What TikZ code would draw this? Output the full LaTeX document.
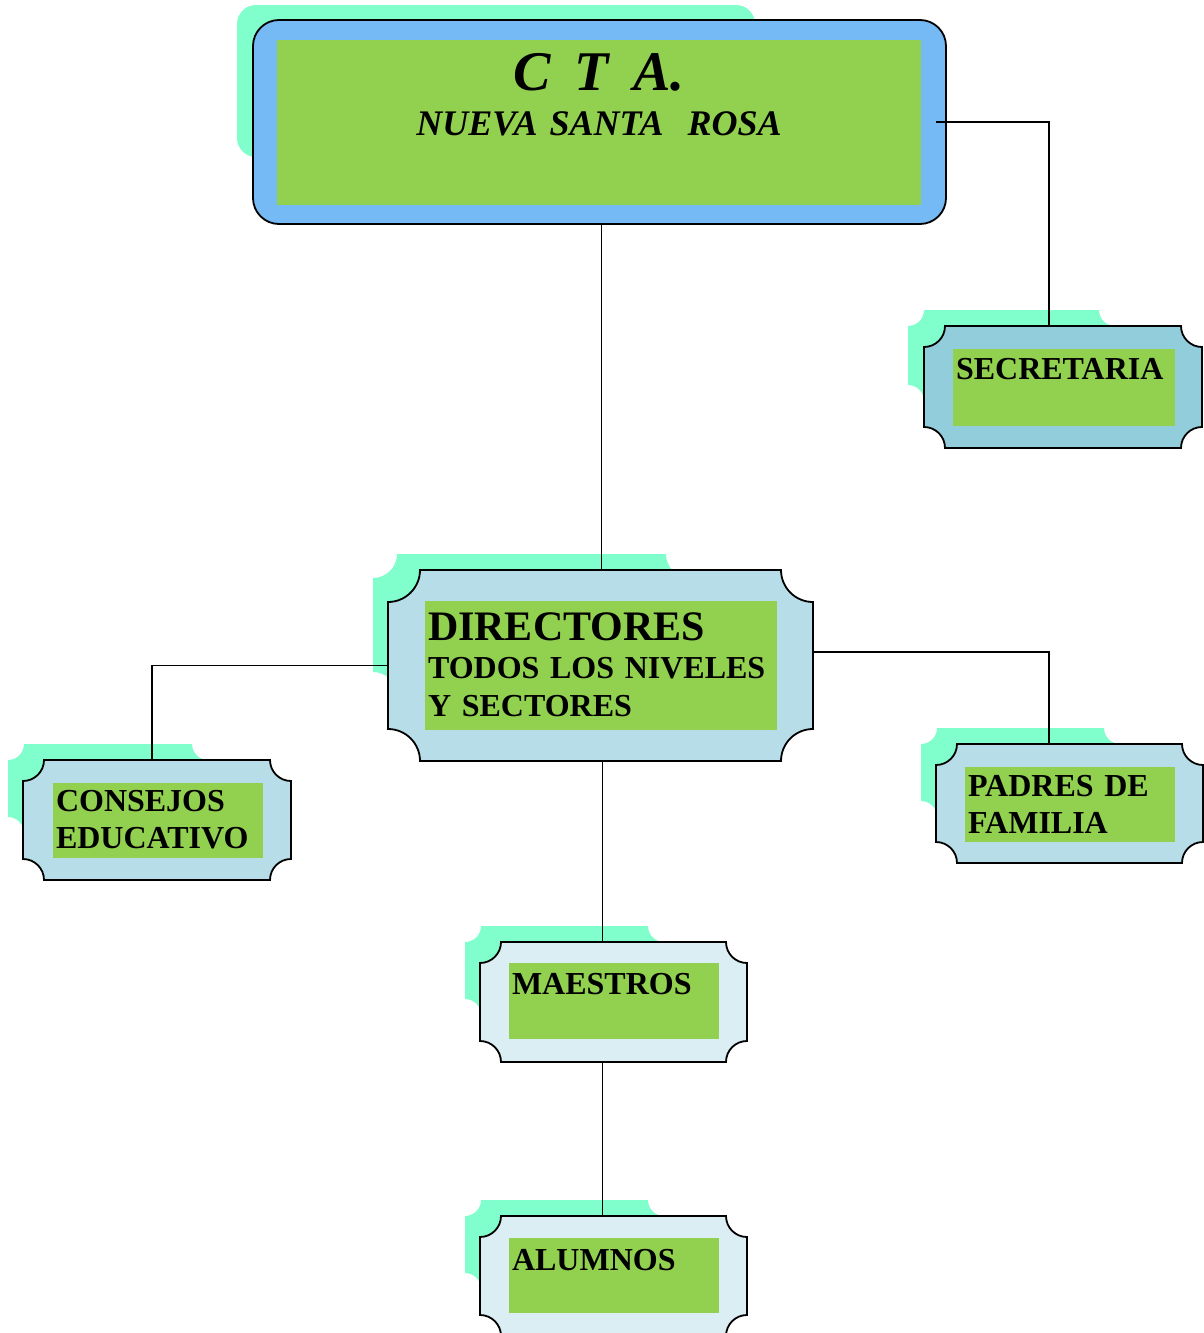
\documentclass[tikz,border=0pt]{standalone}
\usepackage{fontspec}
\setmainfont{Liberation Serif}
\definecolor{shadowaqua}{HTML}{80FFCC}
\definecolor{ctablue}{HTML}{75B9F5}
\definecolor{boxgreen}{HTML}{92D050}
\definecolor{dirblue}{HTML}{B6DDE8}
\definecolor{secblue}{HTML}{92CDDC}
\definecolor{paleblue}{HTML}{DAEEF3}
% plaque outline round a node: #1 node, #2 corner radius
\newcommand{\plaque}[2]{([xshift=#2]#1.north west) -- ([xshift=-#2]#1.north east)
  arc[start angle=180,end angle=270,radius=#2] -- ([yshift=#2]#1.south east)
  arc[start angle=90,end angle=180,radius=#2] -- ([xshift=#2]#1.south west)
  arc[start angle=0,end angle=90,radius=#2] -- ([yshift=-#2]#1.north west)
  arc[start angle=270,end angle=360,radius=#2] -- cycle}
\begin{document}
\begin{tikzpicture}[x=1pt, y=-1pt,
    outline/.style = {inner sep=0pt, outer sep=0pt},
    shade/.style = {outline, anchor=north west},
    txt/.style = {fill=boxgreen, anchor=north west, inner xsep=3pt, inner ysep=0pt,
      outer sep=0pt, align=left, font=\bfseries\fontsize{32}{37}\selectfont},
    edge/.style = {line width=1.5pt}]
	\useasboundingbox (0,0) rectangle (1204,1333);
	% shadows
	\node[shade, fill=shadowaqua, rounded corners=19pt, minimum width=518pt, minimum height=152pt] (ctash) at (237,5) {};
	\node[shade, minimum width=207pt, minimum height=91pt] (secsh) at (908,310) {};
	\node[shade, minimum width=317pt, minimum height=142pt] (dirsh) at (373,554) {};
	\node[shade, minimum width=200pt, minimum height=89pt] (conssh) at (8,744) {};
	\node[shade, minimum width=199pt, minimum height=89pt] (padsh) at (921,728) {};
	\node[shade, minimum width=199pt, minimum height=89pt] (maesh) at (465,926) {};
	\node[shade, minimum width=199pt, minimum height=89pt] (alush) at (465,1200) {};
	\fill[shadowaqua] \plaque{secsh}{16pt};
	\fill[shadowaqua] \plaque{dirsh}{24pt};
	\fill[shadowaqua] \plaque{conssh}{16pt};
	\fill[shadowaqua] \plaque{padsh}{16pt};
	\fill[shadowaqua] \plaque{maesh}{16pt};
	\fill[shadowaqua] \plaque{alush}{16pt};
	% boxes
	\node[outline, draw, line width=1.8pt, fill=ctablue, rounded corners=26pt, minimum width=693pt, minimum height=204pt] (cta) at (599.5,122) {};
	\node[outline, minimum width=278pt, minimum height=122pt] (sec) at (1063,387) {};
	\node[outline, minimum width=425pt, minimum height=191pt] (dir) at (600.5,665.5) {};
	\node[outline, minimum width=268pt, minimum height=120pt] (cons) at (157,820) {};
	\node[outline, minimum width=267pt, minimum height=119pt] (pad) at (1069.5,803.5) {};
	\node[outline, minimum width=267pt, minimum height=120pt] (mae) at (613.5,1002) {};
	\node[outline, minimum width=267pt, minimum height=120pt] (alu) at (613.5,1276) {};
	\filldraw[line width=1.8pt, fill=secblue] \plaque{sec}{21pt};
	\filldraw[line width=1.8pt, fill=dirblue] \plaque{dir}{32pt};
	\filldraw[line width=1.8pt, fill=dirblue] \plaque{cons}{21pt};
	\filldraw[line width=1.8pt, fill=dirblue] \plaque{pad}{21pt};
	\filldraw[line width=1.8pt, fill=paleblue] \plaque{mae}{21pt};
	\filldraw[line width=1.8pt, fill=paleblue] \plaque{alu}{21pt};
	% texts
	\node[txt, inner xsep=0pt, align=center, text width=644pt, text height=50pt, text depth=115pt,
	  font=\bfseries\itshape\fontsize{36}{45}\selectfont] (ctatx) at (277,40)
	  {{\fontsize{56}{56}\selectfont C\ \ T\ \ A.}\\NUEVA SANTA\ \ ROSA};
	\node[txt, text width=216pt, text height=30pt, text depth=47pt] (sectx) at (953,349) {SECRETARIA\\\mbox{}};
	\node[txt, text width=346pt, text height=39pt, text depth=90pt, font=\bfseries\fontsize{32}{38}\selectfont] (dirtx) at (425,601)
	  {{\fontsize{42}{42}\selectfont DIRECTORES}\\TODOS LOS NIVELES\\Y SECTORES};
	\node[txt, text width=204pt, text height=28pt, text depth=47pt] (constx) at (53,783) {CONSEJOS\\EDUCATIVO};
	\node[txt, text width=204pt, text height=29pt, text depth=46pt] (padtx) at (965,767) {PADRES DE\\FAMILIA};
	\node[txt, text width=204pt, text height=31pt, text depth=45pt] (maetx) at (509,963) {MAESTROS\\\mbox{}};
	\node[txt, text width=204pt, text height=32pt, text depth=43pt] (alutx) at (509,1238) {ALUMNOS\\\mbox{}};
	% connectors
	\draw[edge] ([xshift=-10pt]cta.east) -| ([xshift=-14pt]sec.north);
	\draw[edge] ([xshift=2pt]cta.south) -- ([xshift=2pt]cta.south |- dir.north);
	\draw[edge] (dir.west) -| ([xshift=-5pt]cons.north);
	\draw[edge] ([yshift=13.5pt]dir.east) -| ([xshift=-20.5pt]pad.north);
	\draw[edge] ([xshift=2pt]dir.south) -- ([xshift=2pt]dir.south |- mae.north);
	\draw[edge] ([xshift=2pt]dir.south |- mae.south) -- ([xshift=2pt]dir.south |- alu.north);
\end{tikzpicture}
\end{document}
